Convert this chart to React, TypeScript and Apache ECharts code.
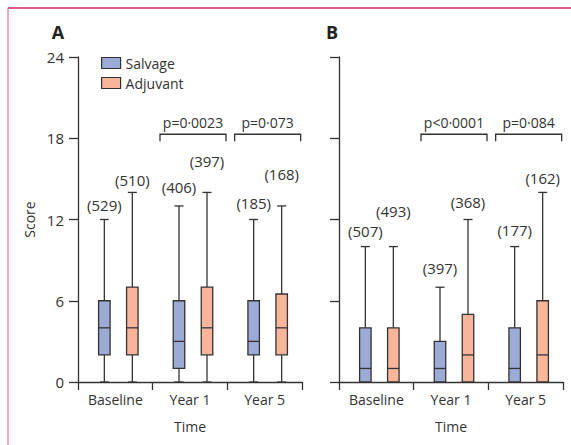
import React, { useEffect, useRef } from "react";
import * as echarts from "echarts";

// ---------- data ----------
const timepoints = ["Baseline", "Year 1", "Year 5"];
const yTickStep = 6;
const yMax = 24;
// each entry: [min, Q1, median, Q3, max]
const aSalvage = [
  [0, 2, 4, 6, 12],
  [0, 1, 3, 6, 13],
  [0, 2, 3, 6, 12],
];
const aAdjuvant = [
  [0, 2, 4, 7, 14],
  [0, 2, 4, 7, 14],
  [0, 2, 4, 6.5, 13],
];
const bSalvage = [
  [0, 0, 1, 4, 10],
  [0, 0, 1, 3, 7],
  [0, 0, 1, 4, 10],
];
const bAdjuvant = [
  [0, 0, 1, 4, 10],
  [0, 0, 2, 5, 12],
  [0, 0, 2, 6, 14],
];
const aSalvageN = [529, 406, 185];
const aAdjuvantN = [510, 397, 168];
const bSalvageN = [507, 397, 177];
const bAdjuvantN = [493, 368, 162];
const aPValues = [null, "p=0·0023", "p=0·073"];
const bPValues = [null, "p<0·0001", "p=0·084"];

// ---------- layout / style ----------
const FONT = "'Open Sans', 'Noto Sans', sans-serif";
const FS = 14;
const FS_NUM = 15;
const TEXT = "#333333";
const LINE = "#333333";
const SALVAGE_FILL = "#9cabd6";
const ADJUVANT_FILL = "#f9b59a";
const SALVAGE_OFFSET = -11;
const ADJUVANT_OFFSET = 17;
// vertical lift (px) of each "(n)" label above its whisker cap
const aSalvageLift = [15, 19, 17];
const aAdjuvantLift = [12.5, 31, 32];
const bSalvageLift = [15.5, 19, 17];
const bAdjuvantLift = [35.5, 17.5, 14];

function boxData(stats: number[][], counts: number[]) {
  return stats.map((s, i) => [i, ...s, counts[i]]);
}

function boxRender(offset: number, fill: string, lifts: number[]) {
  return (params: any, api: any) => {
    const cat = api.value(0);
    const x = api.coord([cat, 0])[0] + offset;
    const y = (k: number) => api.coord([cat, api.value(k)])[1];
    const yMin = y(1), yQ1 = y(2), yMed = y(3), yQ3 = y(4), yMx = y(5);
    const n = api.value(6);
    const hw = 5.75;
    const cw = 4.5;
    const ls = { stroke: LINE, lineWidth: 1.3 };
    return {
      type: "group",
      children: [
        { type: "line", shape: { x1: x, y1: yMx, x2: x, y2: yQ3 }, style: ls },
        { type: "line", shape: { x1: x, y1: yQ1, x2: x, y2: yMin }, style: ls },
        { type: "line", shape: { x1: x - cw, y1: yMx, x2: x + cw, y2: yMx }, style: ls },
        { type: "line", shape: { x1: x - cw, y1: yMin, x2: x + cw, y2: yMin }, style: ls },
        {
          type: "rect",
          shape: { x: x - hw, y: yQ3, width: hw * 2, height: yQ1 - yQ3 },
          style: { fill, stroke: LINE, lineWidth: 1.3 },
        },
        { type: "line", shape: { x1: x - hw, y1: yMed, x2: x + hw, y2: yMed }, style: ls },
        {
          type: "text",
          x: x,
          y: yMx - lifts[params.dataIndex],
          style: {
            text: "(" + n + ")",
            align: "center",
            verticalAlign: "middle",
            fontSize: FS_NUM,
            fontFamily: FONT,
            fill: TEXT,
          },
        },
      ],
    };
  };
}

function bracketData(pv: (string | null)[]) {
  const out: any[] = [];
  pv.forEach((p, i) => {
    if (p) out.push({ value: [i, 18], p });
  });
  return out;
}

function bracketRender(pv: (string | null)[]) {
  return (params: any, api: any) => {
    const cat = api.value(0);
    const c = api.coord([cat, api.value(1)]);
    const x1 = c[0] - 30;
    const x2 = c[0] + 36;
    const yl = c[1] - 4;
    const ls = { stroke: LINE, lineWidth: 1.3, fill: "none" };
    const texts = pv.filter((p) => p);
    return {
      type: "group",
      children: [
        {
          type: "polyline",
          shape: { points: [[x1, yl + 7], [x1, yl], [x2, yl], [x2, yl + 7]] },
          style: ls,
        },
        {
          type: "text",
          x: (x1 + x2) / 2,
          y: yl - 12,
          style: {
            text: texts[params.dataIndex],
            align: "center",
            verticalAlign: "middle",
            fontSize: FS,
            fontFamily: FONT,
            fill: TEXT,
          },
        },
      ],
    };
  };
}

function xAxisFor(grid: number) {
  return {
    type: "category",
    gridIndex: grid,
    data: timepoints,
    boundaryGap: true,
    name: "Time",
    nameLocation: "middle",
    nameGap: 37,
    nameTextStyle: { fontSize: FS, fontFamily: FONT, color: TEXT },
    axisLine: { lineStyle: { color: LINE, width: 1.3 } },
    axisTick: { show: true, length: 8, alignWithLabel: false, interval: 0, lineStyle: { color: LINE, width: 1.3 } },
    axisLabel: { interval: 0, fontSize: FS, fontFamily: FONT, color: TEXT, margin: 10 },
    splitLine: { show: false },
  };
}

function yAxisFor(grid: number, labels: boolean) {
  return {
    type: "value",
    gridIndex: grid,
    min: 0,
    max: yMax,
    interval: yTickStep,
    name: labels ? "Score" : "",
    nameLocation: "middle",
    nameGap: 42,
    nameTextStyle: { fontSize: FS, fontFamily: FONT, color: TEXT },
    axisLine: { show: true, lineStyle: { color: LINE, width: 1.3 } },
    axisTick: { show: true, length: 9, lineStyle: { color: LINE, width: 1.3 } },
    axisLabel: { show: labels, fontSize: FS_NUM, fontFamily: FONT, color: TEXT, margin: 14 },
    splitLine: { show: false },
  };
}

export default function App() {
  const ref = useRef<HTMLDivElement>(null);
  useEffect(() => {
    if (!ref.current) return;
    const chart = echarts.init(ref.current, null, { renderer: "svg" });
    const boxSeries = (
      name: string,
      grid: number,
      stats: number[][],
      counts: number[],
      offset: number,
      fill: string,
      lifts: number[]
    ) => ({
      type: "custom",
      name,
      xAxisIndex: grid,
      yAxisIndex: grid,
      itemStyle: { color: fill, borderColor: LINE, borderWidth: 1 },
      encode: { x: 0, y: [1, 2, 3, 4, 5] },
      data: boxData(stats, counts),
      renderItem: boxRender(offset, fill, lifts),
      clip: false,
    });
    const bracketSeries = (grid: number, pv: (string | null)[]) => ({
      type: "custom",
      name: "brackets" + grid,
      xAxisIndex: grid,
      yAxisIndex: grid,
      encode: { x: 0, y: 1 },
      data: bracketData(pv),
      renderItem: bracketRender(pv),
      clip: false,
    });
    chart.setOption({
      animation: false,
      textStyle: { fontFamily: FONT },
      grid: [
        { left: 78, top: 57, width: 224, height: 325 },
        { left: 339, top: 57, width: 224, height: 325 },
      ],
      xAxis: [xAxisFor(0), xAxisFor(1)],
      yAxis: [yAxisFor(0, true), yAxisFor(1, false)],
      legend: {
        orient: "vertical",
        left: 96,
        top: 51,
        itemWidth: 19,
        itemHeight: 11,
        itemGap: 6,
        selectedMode: false,
        textStyle: { fontSize: FS, fontFamily: FONT, color: TEXT },
        data: [
          { name: "Salvage", icon: "rect", itemStyle: { color: SALVAGE_FILL, borderColor: LINE, borderWidth: 1.2 } },
          { name: "Adjuvant", icon: "rect", itemStyle: { color: ADJUVANT_FILL, borderColor: LINE, borderWidth: 1.2 } },
        ],
      },
      graphic: [
        { type: "line", shape: { x1: 8, y1: 8, x2: 571, y2: 8 }, style: { stroke: "#d12a5a", lineWidth: 1.5 } },
        { type: "line", shape: { x1: 8, y1: 8, x2: 8, y2: 445 }, style: { stroke: "#e0739a", lineWidth: 1.2 } },
        {
          type: "text",
          x: 58,
          y: 32,
          style: { text: "A", align: "center", verticalAlign: "middle", fontSize: 18, fontWeight: "bold", fontFamily: FONT, fill: "#222" },
        },
        {
          type: "text",
          x: 332,
          y: 32,
          style: { text: "B", align: "center", verticalAlign: "middle", fontSize: 18, fontWeight: "bold", fontFamily: FONT, fill: "#222" },
        },
      ],
      series: [
        boxSeries("Salvage", 0, aSalvage, aSalvageN, SALVAGE_OFFSET, SALVAGE_FILL, aSalvageLift),
        boxSeries("Adjuvant", 0, aAdjuvant, aAdjuvantN, ADJUVANT_OFFSET, ADJUVANT_FILL, aAdjuvantLift),
        boxSeries("Salvage", 1, bSalvage, bSalvageN, SALVAGE_OFFSET, SALVAGE_FILL, bSalvageLift),
        boxSeries("Adjuvant", 1, bAdjuvant, bAdjuvantN, ADJUVANT_OFFSET, ADJUVANT_FILL, bAdjuvantLift),
        bracketSeries(0, aPValues),
        bracketSeries(1, bPValues),
      ],
    });
    return () => chart.dispose();
  }, []);
  return (
    <div
      ref={ref}
      style={{ position: "fixed", left: 0, top: 0, width: 571, height: 445, background: "#fff" }}
    />
  );
}
